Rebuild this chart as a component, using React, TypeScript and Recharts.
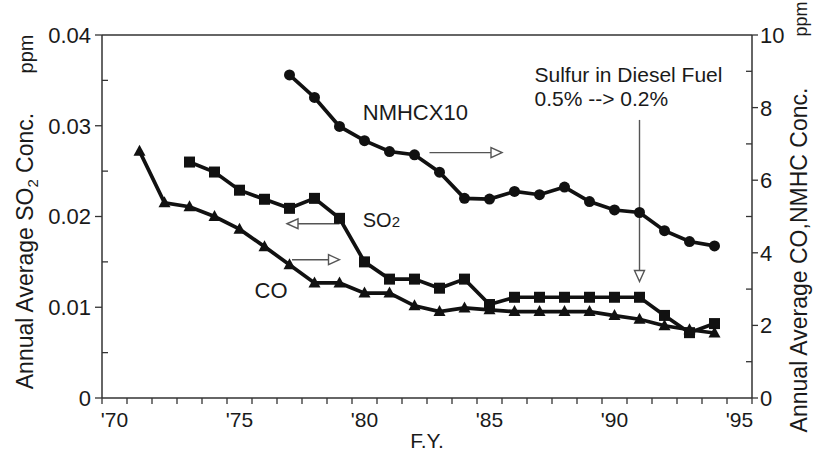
import { LineChart, Line, XAxis, YAxis, ReferenceLine, ReferenceDot } from 'recharts';

const years = [71, 72, 73, 74, 75, 76, 77, 78, 79, 80, 81, 82, 83, 84, 85, 86, 87, 88, 89, 90, 91, 92, 93, 94];

// SO2 (left axis, ppm)
const so2 = [null, null, 0.026, 0.0249, 0.0229, 0.0219, 0.0209, 0.022, 0.0198, 0.015, 0.0131, 0.0131,
  0.0121, 0.0131, 0.0103, 0.0111, 0.0111, 0.0111, 0.0111, 0.0111, 0.0111, 0.0091, 0.0072, 0.0082];

// CO (right axis, ppm)
const co = [6.8, 5.38, 5.27, 5.0, 4.65, 4.17, 3.67, 3.17, 3.17, 2.89, 2.89, 2.54,
  2.38, 2.48, 2.43, 2.38, 2.38, 2.38, 2.38, 2.27, 2.17, 1.99, 1.88, 1.79];

// NMHC x10 (right axis)
const nmhc = [null, null, null, null, null, null, 8.9, 8.28, 7.48, 7.09, 6.79, 6.7,
  6.22, 5.5, 5.48, 5.69, 5.6, 5.81, 5.41, 5.18, 5.11, 4.61, 4.31, 4.19];

const yearLabels = [70, 75, 80, 85, 90, 95];
const yearBounds = [69.5, 70.5, 71.5, 72.5, 73.5, 74.5, 75.5, 76.5, 77.5, 78.5, 79.5, 80.5, 81.5, 82.5,
  83.5, 84.5, 85.5, 86.5, 87.5, 88.5, 89.5, 90.5, 91.5, 92.5, 93.5, 94.5, 95.5];
const leftTicks = [0, 0.005, 0.01, 0.015, 0.02, 0.025, 0.03, 0.035, 0.04];
const rightTicks = [0, 1, 2, 3, 4, 5, 6, 7, 8, 9, 10];

const data = years.map((year, i) => ({ year, so2: so2[i], co: co[i], nmhc: nmhc[i] }));

const FONT = '"Liberation Sans", Arial, Helvetica, sans-serif';
const INK = '#1a1a1a';
const AXIS = '#333';

function XTick({ x, y, payload }: any) {
  const v = payload.value;
  if (Number.isInteger(v)) {
    return (
      <text x={x} y={y + 29} textAnchor="middle" fontSize={21} fontFamily={FONT} fill={INK}>{`'${v}`}</text>
    );
  }
  return <line x1={x} y1={y} x2={x} y2={y + 6} stroke={AXIS} strokeWidth={1.3} />;
}

function LeftTick({ x, y, payload }: any) {
  const v = payload.value;
  const major = Math.round(v * 1000) % 10 === 0;
  if (!major) return <line x1={x} y1={y} x2={x + 6} y2={y} stroke={AXIS} strokeWidth={1.3} />;
  return (
    <g>
      <line x1={x} y1={y} x2={x - 7} y2={y} stroke={AXIS} strokeWidth={1.3} />
      <text x={x - 11} y={y} dy="0.36em" textAnchor="end" fontSize={22} fontFamily={FONT} fill={INK}>
        {v === 0 ? '0' : v.toFixed(2)}
      </text>
    </g>
  );
}

function RightTick({ x, y, payload }: any) {
  const v = payload.value;
  if (v % 2 !== 0) return <line x1={x} y1={y} x2={x - 6} y2={y} stroke={AXIS} strokeWidth={1.3} />;
  return (
    <g>
      <line x1={x} y1={y} x2={x + 6} y2={y} stroke={AXIS} strokeWidth={1.3} />
      <text x={x + 8} y={y} dy="0.36em" textAnchor="start" fontSize={22} fontFamily={FONT} fill={INK}>{v}</text>
    </g>
  );
}

function LeftTitle({ viewBox }: any) {
  const bx = viewBox.x + 33;
  const cy = viewBox.y + 216;
  const py = viewBox.y + 19;
  return (
    <g fontFamily={FONT} fill={INK} fontSize={23}>
      <text x={bx} y={cy} transform={`rotate(-90 ${bx} ${cy})`} textAnchor="middle">
        Annual Average SO<tspan fontSize={15} dy={5}>2</tspan><tspan dy={-5}> Conc.</tspan>
      </text>
      <text x={bx} y={py} transform={`rotate(-90 ${bx} ${py})`} textAnchor="middle" fontSize={20}>ppm</text>
    </g>
  );
}

function RightTitle({ viewBox }: any) {
  const bx = viewBox.x + 55;
  const cy = viewBox.y + 225;
  const py = viewBox.y - 16;
  return (
    <g fontFamily={FONT} fill={INK} fontSize={23}>
      <text x={bx} y={cy} transform={`rotate(-90 ${bx} ${cy})`} textAnchor="middle">Annual Average CO,NMHC Conc.</text>
      <text x={bx} y={py} transform={`rotate(-90 ${bx} ${py})`} textAnchor="middle" fontSize={18}>ppm</text>
    </g>
  );
}

function XTitle({ viewBox }: any) {
  return (
    <text x={viewBox.x + viewBox.width / 2} y={viewBox.y + 50} textAnchor="middle" fontSize={21} fontFamily={FONT} fill={INK}>
      F.Y.
    </text>
  );
}

function SquareDot({ cx, cy }: any) {
  if (cx == null || cy == null) return <g />;
  return <rect x={cx - 5.5} y={cy - 5.5} width={11} height={11} fill="#111" />;
}

function CircleDot({ cx, cy }: any) {
  if (cx == null || cy == null) return <g />;
  return <circle cx={cx} cy={cy} r={5.5} fill="#111" />;
}

function TriangleDot({ cx, cy }: any) {
  if (cx == null || cy == null) return <g />;
  return <polygon points={`${cx},${cy - 6.5} ${cx - 6},${cy + 4.5} ${cx + 6},${cy + 4.5}`} fill="#111" />;
}

function Arrow({ x1, y1, x2, y2 }: any) {
  const dx = x2 - x1;
  const dy = y2 - y1;
  const len = Math.hypot(dx, dy) || 1;
  const ux = dx / len;
  const uy = dy / len;
  const hl = 11;
  const hw = 5;
  const bx = x2 - ux * hl;
  const by = y2 - uy * hl;
  const p1 = `${bx - uy * hw},${by + ux * hw}`;
  const p2 = `${bx + uy * hw},${by - ux * hw}`;
  return (
    <g>
      <line x1={x1} y1={y1} x2={bx} y2={by} stroke="#555" strokeWidth={1.4} />
      <polygon points={`${x2},${y2} ${p1} ${p2}`} fill="#fff" stroke="#555" strokeWidth={1.4} />
    </g>
  );
}

function note(lines: { text: string; size: number; sub?: string }) {
  return ({ cx, cy }: any) => (
    <text x={cx} y={cy} fontSize={lines.size} fontFamily={FONT} fill={INK}>
      {lines.text}
      {lines.sub ? <tspan fontSize={15}>{lines.sub}</tspan> : null}
    </text>
  );
}

export default function App() {
  return (
    <div style={{ position: 'absolute', left: 0, top: 0, background: '#fff' }}>
      <LineChart width={817} height={465} data={data} margin={{ top: 35, right: 0, bottom: 0, left: 0 }}>
        <XAxis
          dataKey="year"
          type="number"
          domain={[69.5, 95.5]}
          ticks={[...yearBounds, ...yearLabels].sort((a, b) => a - b)}
          interval={0}
          tickSize={0}
          tickMargin={0}
          tick={<XTick />}
          height={67}
          axisLine={{ stroke: AXIS, strokeWidth: 1.5 }}
          label={<XTitle />}
        />
        <YAxis
          yAxisId="left"
          domain={[0, 0.04]}
          ticks={leftTicks}
          interval={0}
          tickSize={0}
          tickMargin={0}
          tick={<LeftTick />}
          width={102}
          axisLine={{ stroke: AXIS, strokeWidth: 1.5 }}
          label={<LeftTitle />}
        />
        <YAxis
          yAxisId="right"
          orientation="right"
          domain={[0, 10]}
          ticks={rightTicks}
          interval={0}
          tickSize={0}
          tickMargin={0}
          tick={<RightTick />}
          width={65}
          axisLine={{ stroke: AXIS, strokeWidth: 1.5 }}
          label={<RightTitle />}
        />
        <ReferenceLine yAxisId="left" y={0.04} stroke={AXIS} strokeWidth={1.5} />

        <Line yAxisId="right" dataKey="nmhc" stroke="#111" strokeWidth={3.7} dot={<CircleDot />} isAnimationActive={false} />
        <Line yAxisId="left" dataKey="so2" stroke="#111" strokeWidth={3.7} dot={<SquareDot />} isAnimationActive={false} />
        <Line yAxisId="right" dataKey="co" stroke="#111" strokeWidth={3.7} dot={<TriangleDot />} isAnimationActive={false} />

        <ReferenceLine yAxisId="right" segment={[{ x: 82.6, y: 6.76 }, { x: 85.5, y: 6.76 }]} shape={Arrow} />
        <ReferenceLine yAxisId="left" segment={[{ x: 79.0, y: 0.0192 }, { x: 76.9, y: 0.0192 }]} shape={Arrow} />
        <ReferenceLine yAxisId="right" segment={[{ x: 77.1, y: 3.81 }, { x: 79.0, y: 3.81 }]} shape={Arrow} />
        <ReferenceLine yAxisId="right" segment={[{ x: 91, y: 7.66 }, { x: 91, y: 3.21 }]} shape={Arrow} />

        <ReferenceDot yAxisId="right" x={79.93} y={7.66} shape={note({ text: 'NMHCX10', size: 22 })} />
        <ReferenceDot yAxisId="left" x={79.93} y={0.0188} shape={note({ text: 'SO', size: 20, sub: '2' })} />
        <ReferenceDot yAxisId="right" x={75.6} y={2.76} shape={note({ text: 'CO', size: 22 })} />
        <ReferenceDot yAxisId="right" x={86.8} y={8.7} shape={note({ text: 'Sulfur in Diesel Fuel', size: 21 })} />
        <ReferenceDot yAxisId="right" x={86.8} y={8.05} shape={note({ text: '0.5% --> 0.2%', size: 21 })} />
      </LineChart>
    </div>
  );
}
